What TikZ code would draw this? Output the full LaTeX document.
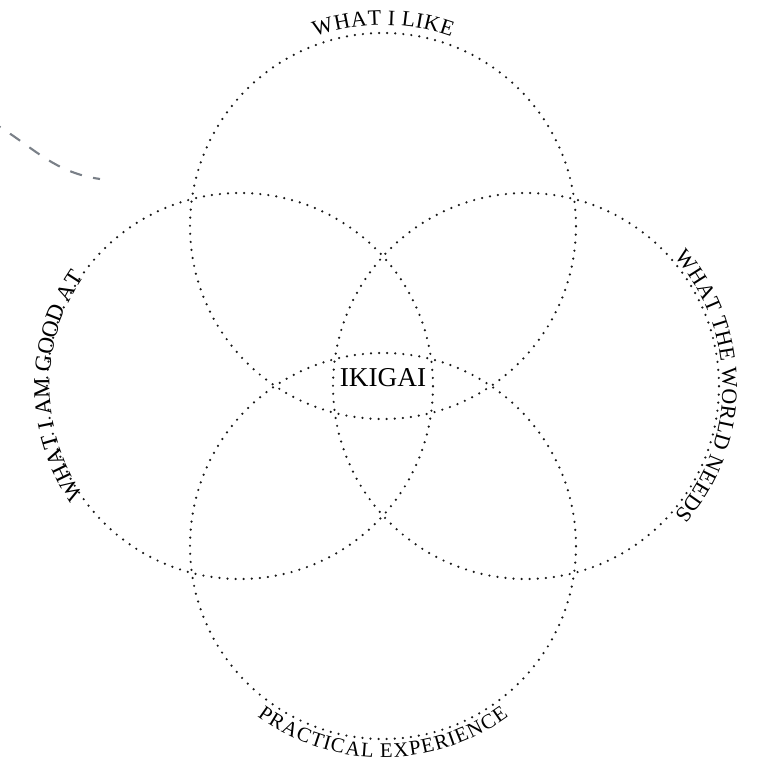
\documentclass[tikz,border=0pt]{standalone}
\usepackage{fontspec}
\setmainfont{Liberation Serif}
\usetikzlibrary{decorations.text}
\definecolor{tailgray}{HTML}{7A8088}
\newcommand{\lblfont}{\fontsize{12.5}{15}\selectfont}

\begin{document}
\begin{tikzpicture}[x=0.02cm,y=0.02cm,
  ring/.style={line width=1.4pt, line cap=round, dash pattern=on 0pt off 4.6pt, black!90}]
\useasboundingbox (0,0) rectangle (761,765);
% circle centres
\coordinate (like) at (383,539);
\coordinate (good) at (240,379);
\coordinate (world) at (526,379);
\coordinate (prac) at (383,219);
% the four dotted circles
\foreach \c in {like,good,world,prac} {
  \draw[ring] (\c) circle[radius=193];
}
% labels along the circles
\path[decorate, decoration={text along path, text align=center, raise=4.5pt,
  text={|\lblfont|WHAT I LIKE}}] (like) ++(150:193) arc[start angle=150, end angle=30, radius=193];
\path[decorate, decoration={text along path, text align=center, raise=-1.5pt,
  text={|\fontsize{13.2}{15}\selectfont|WHAT I AM GOOD AT}}] (good) ++(240:193) arc[start angle=240, end angle=120, radius=193];
\path[decorate, decoration={text along path, text align=center, raise=2pt,
  text={|\lblfont|WHAT THE WORLD NEEDS}}] (world) ++(60:193) arc[start angle=60, end angle=-60, radius=193];
\path[decorate, decoration={text along path, text align=center, raise=-10.5pt,
  text={|\fontsize{11.8}{14}\selectfont|PRACTICAL EXPERIENCE}}] (prac) ++(210:193) arc[start angle=210, end angle=330, radius=193];
% centre
\node[inner sep=0pt, font=\fontsize{15.5}{18}\selectfont] (ikigai) at (383,387) {IKIGAI};
% dashed tail top left
\coordinate (tailA) at (-10,644);
\coordinate (tailB) at (100,586);
\draw[tailgray, line width=1.2pt, dash pattern=on 7pt off 6.5pt] (tailA) to[out=-30,in=172] (tailB);
\end{tikzpicture}
\end{document}
